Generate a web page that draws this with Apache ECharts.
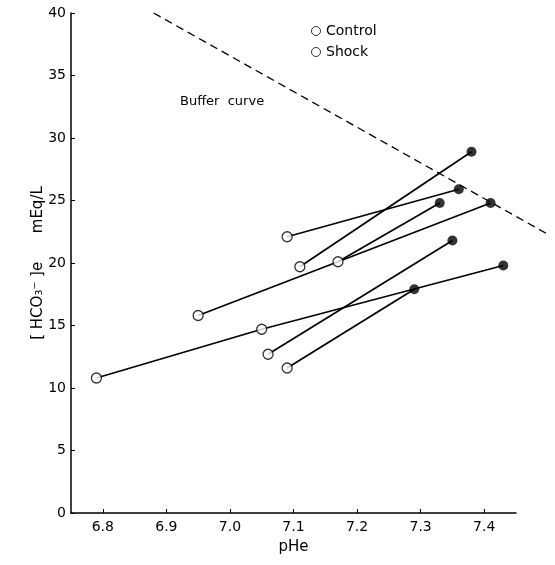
<!DOCTYPE html>
<html>
<head>
<meta charset="utf-8">
<script src="https://cdn.jsdelivr.net/npm/echarts@6/dist/echarts.min.js"></script>
<style>
  html, body { margin: 0; padding: 0; background: #fff; }
  #chart { width: 555px; height: 565px; }
</style>
</head>
<body>
<div id="chart"></div>
<script>
// shock (open circles)
var shockPH    = [6.79, 6.95, 7.05, 7.06, 7.09, 7.09, 7.11, 7.17];
var shockHCO3  = [10.8, 15.8, 14.7, 12.7, 11.6, 22.1, 19.7, 20.1];
// control (filled circles)
var controlPH   = [7.29, 7.33, 7.35, 7.36, 7.38, 7.41, 7.43];
var controlHCO3 = [17.9, 24.8, 21.8, 25.9, 28.9, 24.8, 19.8];
// connecting paths, S = shock index, C = control index
var paths = [
    ['S0', 'S2', 'C6'],
    ['S1', 'S7', 'C5'],
    ['S7', 'C1'],
    ['S5', 'C3'],
    ['S6', 'C4'],
    ['S3', 'C2'],
    ['S4', 'C0']
];
var bufferPH   = [6.88, 7.50];
var bufferHCO3 = [40, 22.3];
var xTicks = [6.8, 6.9, 7.0, 7.1, 7.2, 7.3, 7.4];

var font = 'DejaVu Sans';

function pt(key) {
    var i = +key.slice(1);
    return key[0] === 'S' ? [shockPH[i], shockHCO3[i]] : [controlPH[i], controlHCO3[i]];
}

var series = [];

paths.forEach(function (p, k) {
    series.push({
        name: 'path' + k,
        type: 'line',
        data: p.map(pt),
        symbol: 'none',
        silent: true,
        lineStyle: { color: '#000', width: 1.7 },
        z: 2
    });
});

// buffer curve runs past the right end of the x axis, so draw it unclipped
series.push({
    name: 'Buffer',
    type: 'custom',
    data: [0],
    silent: true,
    clip: false,
    renderItem: function (params, api) {
        var a = api.coord([bufferPH[0], bufferHCO3[0]]);
        var b = api.coord([bufferPH[1], bufferHCO3[1]]);
        return {
            type: 'line',
            shape: { x1: a[0], y1: a[1], x2: b[0], y2: b[1] },
            style: { stroke: '#000', lineWidth: 1.3, lineDash: [8, 5] }
        };
    },
    z: 1
});

series.push({
    name: 'Shock',
    type: 'scatter',
    data: shockPH.map(function (v, i) { return [v, shockHCO3[i]]; }),
    symbol: 'circle',
    symbolSize: 10,
    itemStyle: { color: '#fff', borderColor: '#000', borderWidth: 1.3 },
    z: 5
});

series.push({
    name: 'Control',
    type: 'scatter',
    data: controlPH.map(function (v, i) { return [v, controlHCO3[i]]; }),
    symbol: 'circle',
    symbolSize: 10,
    itemStyle: { color: '#000' },
    z: 5
});

var chart = echarts.init(document.getElementById('chart'));

chart.setOption({
    backgroundColor: '#fff',
    animation: false,
    textStyle: { fontFamily: font, color: '#000' },
    grid: { left: 71, right: 39, top: 13, bottom: 52 },
    legend: {
        data: ['Control', 'Shock'],
        orient: 'vertical',
        left: 306,
        top: 19,
        itemWidth: 10,
        itemHeight: 9,
        itemGap: 7,
        icon: 'circle',
        itemStyle: { color: '#fff', borderColor: '#000', borderWidth: 1 },
        textStyle: { fontFamily: font, fontSize: 14, color: '#000' }
    },
    xAxis: {
        type: 'value',
        min: 6.75,
        max: 7.45,
        name: 'pHe',
        nameLocation: 'middle',
        nameGap: 27,
        nameTextStyle: { fontSize: 15, color: '#000' },
        axisLine: { lineStyle: { color: '#000', width: 1.5 } },
        axisTick: { inside: true, length: 4, lineStyle: { color: '#000' }, customValues: xTicks },
        axisLabel: {
            fontSize: 14, color: '#000', margin: 7,
            customValues: xTicks,
            formatter: function (v) { return v.toFixed(1); }
        },
        splitLine: { show: false }
    },
    yAxis: {
        type: 'value',
        min: 0,
        max: 40,
        interval: 5,
        name: '[ HCO\u2083\u207B ]e      mEq/L',
        nameLocation: 'middle',
        nameGap: 25,
        nameMoveOverlap: false,
        nameTextStyle: { fontSize: 15, color: '#000' },
        axisLine: { lineStyle: { color: '#000', width: 1.5 } },
        axisTick: { inside: true, length: 4, lineStyle: { color: '#000' } },
        axisLabel: { fontSize: 14, color: '#000', margin: 5 },
        splitLine: { show: false }
    },
    graphic: [{
        type: 'text',
        left: 180,
        top: 95,
        style: { text: 'Buffer  curve', font: '13px "DejaVu Sans"', fill: '#000' }
    }],
    series: series
});
</script>
</body>
</html>
